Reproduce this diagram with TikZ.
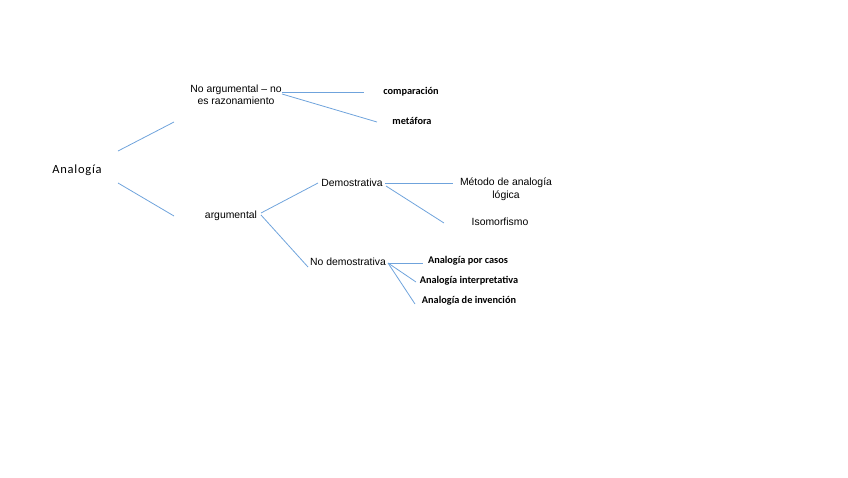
\documentclass[tikz,border=0pt]{standalone}
\usepackage{fontspec}
\setmainfont{Liberation Sans}
\newfontfamily\calib{Carlito}
\newfontfamily\calibls[LetterSpace=6]{Carlito}
\definecolor{linkblue}{HTML}{6FA3DC}
\begin{document}
\begin{tikzpicture}[x=1pt,y=-1pt,
  link/.style={draw=linkblue,line width=0.8pt},
  arial/.style={font=\fontsize{10.4}{12.5}\selectfont,inner sep=0pt,align=center},
  leaf/.style={font=\calib\bfseries\fontsize{10.3}{12}\selectfont,inner sep=0pt,align=center},
  rootlbl/.style={font=\calibls\fontsize{12.5}{14}\selectfont,inner sep=0pt}]
\useasboundingbox (0,0) rectangle (848,477);
% texts
\node[rootlbl] (ana) at (77,170) {Analogía};
\node[arial] (noarg) at (236,95) {No argumental – no\\es razonamiento};
\node[leaf] (comp) at (411,92) {comparación};
\node[leaf] (meta) at (412,121) {metáfora};
\node[arial] (arg) at (231,216) {argumental};
\node[arial,align=center,font=\fontsize{10.4}{13}\selectfont] (metodo) at (506,189) {Método de analogía\\lógica};
\node[arial] (demo) at (352,183) {Demostrativa};
\node[arial] (iso) at (500,222) {Isomorfismo};
\node[arial] (nodemo) at (348,262) {No demostrativa};
\node[leaf] (casos) at (468,261) {Analogía por casos};
\node[leaf] (interp) at (469,281) {Analogía interpretativa};
\node[leaf] (inven) at (469,301) {Analogía de invención};
% connector ends
\coordinate (a1) at (118,151); \coordinate (a2) at (174,122);
\coordinate (a3) at (118,183); \coordinate (a4) at (174,216);
\coordinate (n0) at (282,92); \coordinate (n1) at (364,92);
\coordinate (n2) at (282,94); \coordinate (n3) at (377,122);
\coordinate (g0) at (261,213); \coordinate (g1) at (318,183);
\coordinate (g2) at (261,215); \coordinate (g3) at (308,267);
\coordinate (d0) at (385,183); \coordinate (d1) at (453,183);
\coordinate (d2) at (386,186); \coordinate (d3) at (444,223);
\coordinate (m0) at (388,263); \coordinate (m1) at (423,263);
\coordinate (m2) at (416,282); \coordinate (m3) at (415,304);
% connectors
\draw[link] (a1) -- (a2);
\draw[link] (a3) -- (a4);
\draw[link] (n0) -- (n1);
\draw[link] (n2) -- (n3);
\draw[link] (g0) -- (g1);
\draw[link] (g2) -- (g3);
\draw[link] (d0) -- (d1);
\draw[link] (d2) -- (d3);
\draw[link] (m0) -- (m1);
\draw[link] (m0) -- (m2);
\draw[link] (m0) -- (m3);
\end{tikzpicture}
\end{document}
